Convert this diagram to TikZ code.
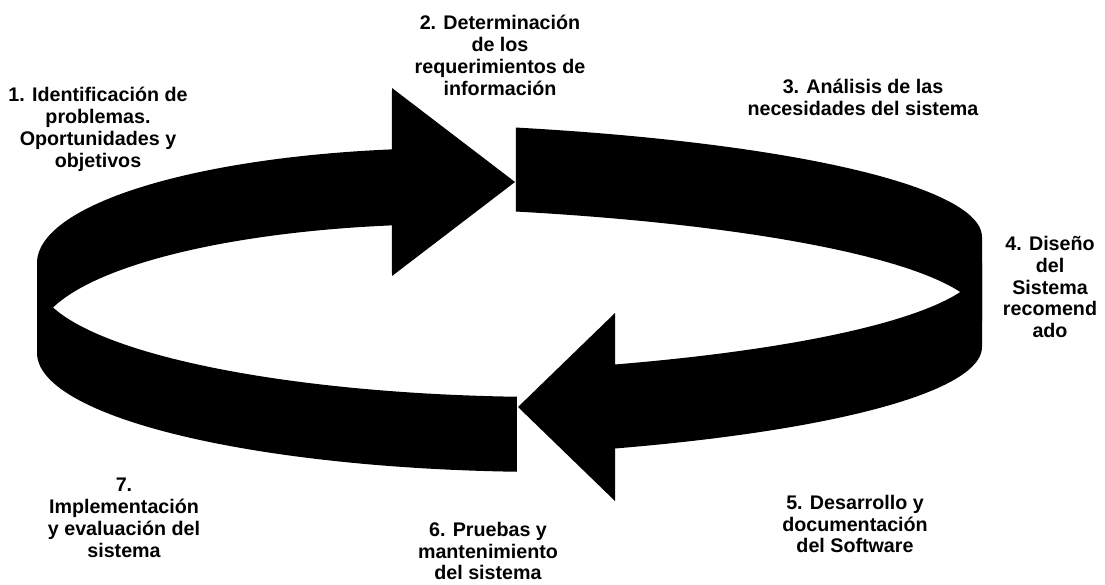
\documentclass[tikz,border=0pt]{standalone}
\usepackage{fontspec}
\setmainfont{Liberation Sans}
\usetikzlibrary{positioning}
\tikzset{font=\bfseries\fontsize{14}{15.6}\selectfont}
\tikzset{etapa/.style={align=center,inner sep=0pt}}
\tikzset{banda/.style={fill=black}}
\begin{document}
\begin{tikzpicture}[x=0.025cm,y=-0.025cm]
\useasboundingbox (0,0) rectangle (1105,585);
\pgfmathsetmacro{\FINA}{261.2}
\pgfmathsetmacro{\COLA}{93.7}
\pgfmathsetmacro{\COLB}{-72.15}
\pgfmathsetmacro{\FINB}{64.97}
\fill[banda] plot[domain=180:\FINA,samples=60] ({456+419*cos(\x)},{263+115*sin(\x)})
 -- (392,88) -- (515,182) -- (392,276)
 -- plot[domain=\FINA:180,samples=60] ({456+419*cos(\x)},{339+115*sin(\x)}) -- cycle;
\fill[banda] plot[domain=\COLA:180,samples=60] ({550+513*cos(\x)},{353+119*sin(\x)})
 -- plot[domain=180:\COLA,samples=60] ({550+513*cos(\x)},{278+119*sin(\x)}) -- cycle;
\fill[banda] plot[domain=\COLB:0,samples=60] ({310+672*cos(\x)},{237+115*sin(\x)})
 -- plot[domain=0:\COLB,samples=60] ({310+672*cos(\x)},{321+115*sin(\x)}) -- cycle;
\fill[banda] plot[domain=0:\FINB,samples=60] ({346+636*cos(\x)},{347+112*sin(\x)})
 -- (615,501) -- (518,407) -- (615,313)
 -- plot[domain=\FINB:0,samples=60] ({346+636*cos(\x)},{263+112*sin(\x)}) -- cycle;
\node[etapa] (ident) at (98,129) {1. Identificación de\\problemas.\\Oportunidades y\\objetivos};
\node[etapa] (reqs) at (500,55) {2. Determinación\\de los\\requerimientos de\\información};
\node[etapa] (analisis) at (863,97) {3. Análisis de las\\necesidades del sistema};
\node[etapa] (diseno) at (1050,287) {4. Diseño\\del\\Sistema\\recomend\\ado};
\node[etapa] (desarrollo) at (855,524) {5. Desarrollo y\\documentación\\del Software};
\node[etapa] (pruebas) at (488,551) {6. Pruebas y\\mantenimiento\\del sistema};
\node[etapa] (implem) at (124,518) {7.\\Implementación\\y evaluación del\\sistema};
\end{tikzpicture}
\end{document}
